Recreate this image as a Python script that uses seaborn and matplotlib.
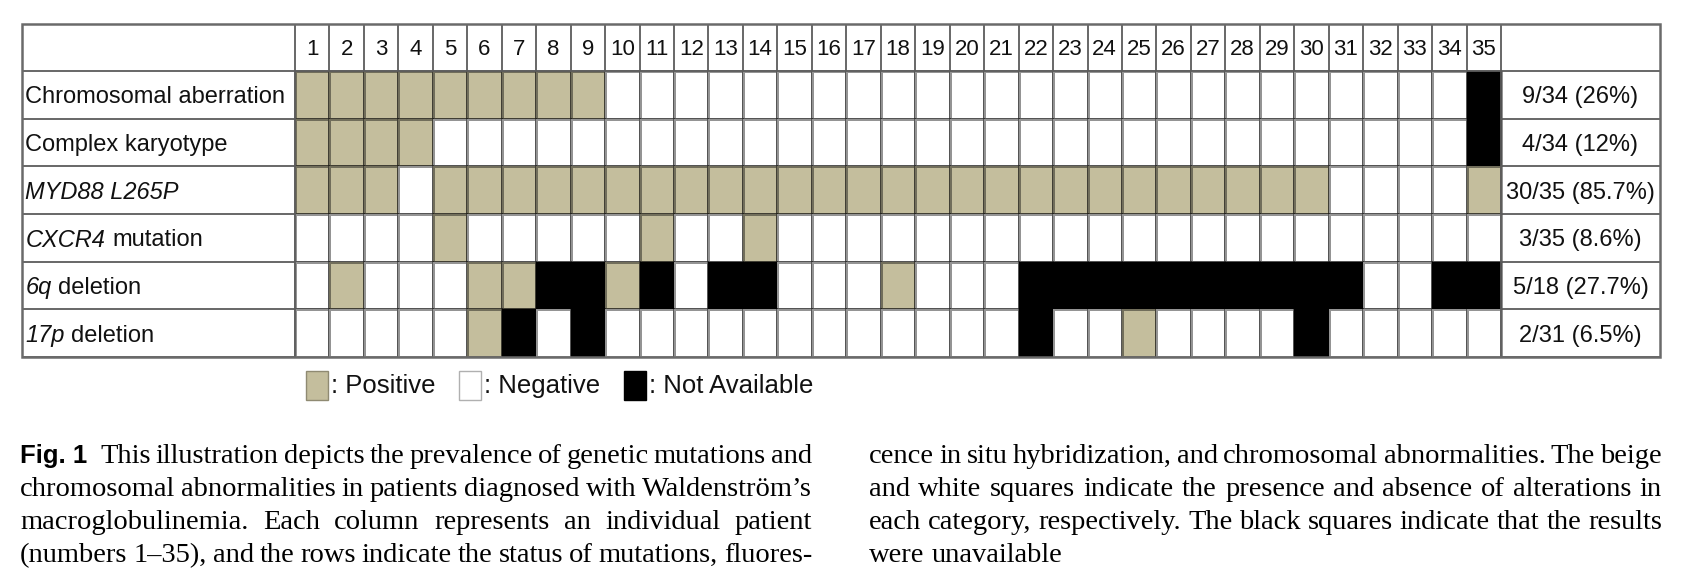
import matplotlib
matplotlib.use("Agg")
import matplotlib.pyplot as plt
import matplotlib.transforms as mtransforms
import seaborn as sns
import pandas as pd
from matplotlib.colors import ListedColormap
from matplotlib.patches import Rectangle

# ---------------- data ----------------
patients = [str(i) for i in range(1, 36)]
categories = ["Chromosomal aberration", "Complex karyotype", "MYD88 L265P",
              "CXCR4 mutation", "6q deletion", "17p deletion"]
# P = positive, N = negative, X = not available (patients 1..35)
chromosomal_aberration = "PPPPPPPPPNNNNNNNNNNNNNNNNNNNNNNNNNX"
complex_karyotype      = "PPPPNNNNNNNNNNNNNNNNNNNNNNNNNNNNNNX"
myd88_l265p            = "PPPNPPPPPPPPPPPPPPPPPPPPPPPPPPNNNNP"
cxcr4_mutation         = "NNNNPNNNNNPNNPNNNNNNNNNNNNNNNNNNNNN"
del_6q                 = "NPNNNPPXXPXNXXNNNPNNNXXXXXXXXXXNNXX"
del_17p                = "NNNNNPXNXNNNNNNNNNNNNXNNPNNNNXNNNNN"
summaries = ["9/34 (26%)", "4/34 (12%)", "30/35 (85.7%)", "3/35 (8.6%)",
             "5/18 (27.7%)", "2/31 (6.5%)"]
legend_labels = [": Positive", ": Negative", ": Not Available"]

# label parts: (italic part, upright part)
label_parts = [("", "Chromosomal aberration"), ("", "Complex karyotype"),
               ("MYD88 L265P", ""), ("CXCR4", "mutation"),
               ("6q", "deletion"), ("17p", "deletion")]

rows = [chromosomal_aberration, complex_karyotype, myd88_l265p,
        cxcr4_mutation, del_6q, del_17p]
code = {"N": 0, "P": 1, "X": 2}
df = pd.DataFrame([[code[c] for c in r] for r in rows],
                  index=categories, columns=patients)

# ---------------- style ----------------
sns.set_style("white")
plt.rcParams["font.family"] = ["Liberation Sans", "DejaVu Sans"]

BEIGE = "#C4BE9D"
LINE = "#5c5c5c"
TXT = "#111111"
W, H = 1686, 586
fig = plt.figure(figsize=(W / 100, H / 100), dpi=100)
fig.patch.set_facecolor("white")
renderer = fig.canvas.get_renderer()

# table geometry (pixels)
tab_left, tab_right, tab_top, tab_bottom = 22, 1660, 24, 357
grid_left, grid_right, grid_top = 295, 1501, 71
ax = fig.add_axes([tab_left / W, 1 - tab_bottom / H,
                   (tab_right - tab_left) / W, (tab_bottom - tab_top) / H])

cmap = ListedColormap(["white", BEIGE, "black"])
sns.heatmap(df, ax=ax, cmap=cmap, vmin=-0.5, vmax=2.5, cbar=False,
            linewidths=1.0, linecolor=(0, 0, 0, 0.42),
            xticklabels=False, yticklabels=False)

ncol, nrow = df.shape[1], df.shape[0]
cw = (grid_right - grid_left) / ncol
rh = (tab_bottom - grid_top) / nrow
XL = -(grid_left - tab_left) / cw
XR = ncol + (tab_right - grid_right) / cw
HR = (grid_top - tab_top) / rh
ax.set_xlim(XL, XR)
ax.set_ylim(nrow, -HR)
ax.set_axis_off()

lw = 1.3
ax.vlines(range(0, ncol + 1), -HR, 0, color=LINE, lw=lw, clip_on=False)
ax.hlines(range(0, nrow + 1), XL, 0, color=LINE, lw=lw, clip_on=False)
ax.hlines(range(0, nrow + 1), ncol, XR, color=LINE, lw=lw, clip_on=False)
ax.hlines(0, 0, ncol, color=LINE, lw=lw, clip_on=False)
ax.vlines([0, ncol], 0, nrow, color=LINE, lw=lw, clip_on=False)
ax.add_patch(Rectangle((XL, -HR), XR - XL, nrow + HR, fill=False,
                       edgecolor="#6a6a6a", lw=1.8, clip_on=False, zorder=5))


def measure(txt, kw):
    t = fig.text(0, 0, txt, **kw)
    w = t.get_window_extent(renderer).width
    t.remove()
    return w


lab_up = dict(fontsize=17, color=TXT)
lab_it = dict(fontsize=17, color=TXT, style="italic")
space17 = measure("a a", lab_up) - 2 * measure("a", lab_up)

# header numbers
for j, p in enumerate(patients):
    ax.text(j + 0.5, -HR / 2 + 0.04, p, ha="center", va="center",
            fontsize=16, color=TXT)
# row labels and summaries
for i, ((it, up), s) in enumerate(zip(label_parts, summaries)):
    x0, y0 = XL + 0.1, i + 0.55
    off = 0.0
    if it:
        ax.text(x0, y0, it, ha="left", va="center", **lab_it)
        off = measure(it, lab_it) + space17
    if up:
        tr = mtransforms.offset_copy(ax.transData, fig=fig, x=off, y=0, units="dots")
        ax.text(x0, y0, up, ha="left", va="center", transform=tr, **lab_up)
    ax.text((ncol + XR) / 2, y0, s, ha="center", va="center", **lab_up)

# ---------------- legend ----------------
def px(x, y):
    return x / W, 1 - y / H

leg_items = [(306, BEIGE, "#8f8a72"), (459, "white", "#b0b0b0"),
             (624, "black", "black")]
for (x, fc, ec), lab in zip(leg_items, legend_labels):
    x0, y0 = px(x, 400)
    fig.add_artist(Rectangle((x0, y0), 22 / W, 29 / H, transform=fig.transFigure,
                             facecolor=fc, edgecolor=ec, lw=1.0))
    tx, ty = px(x + 25, 386)
    fig.text(tx, ty, lab, ha="left", va="center", fontsize=18.5, color=TXT)

# ---------------- caption ----------------
serif = dict(family=["Liberation Serif", "DejaVu Serif"], fontsize=20.5, color="black")
bold = dict(family=["Liberation Sans", "DejaVu Sans"], fontsize=18.5, weight="bold",
            color="black")


def place_line(words, x0, x1, base, justify=True, lead=0.0):
    widths = [measure(w, kw) for w, kw in words]
    if justify and len(words) > 1:
        gap = (x1 - x0 - lead - sum(widths)) / (len(words) - 1)
    else:
        gap = measure("a a", serif) - 2 * measure("a", serif)
    x = x0
    for k, ((w, kw), wd) in enumerate(zip(words, widths)):
        fx, fy = px(x, base)
        fig.text(fx, fy, w, ha="left", va="baseline", **kw)
        x += wd + gap + (lead if k == 0 else 0)


def words_of(s):
    return [(w, serif) for w in s.split(" ")]


left_lines = [
    [("Fig. 1", bold)] + words_of("This illustration depicts the prevalence of genetic mutations and"),
    words_of("chromosomal abnormalities in patients diagnosed with Waldenström’s"),
    words_of("macroglobulinemia. Each column represents an individual patient"),
    words_of("(numbers 1–35), and the rows indicate the status of mutations, fluores-"),
]
right_lines = [
    words_of("cence in situ hybridization, and chromosomal abnormalities. The beige"),
    words_of("and white squares indicate the presence and absence of alterations in"),
    words_of("each category, respectively. The black squares indicate that the results"),
    words_of("were unavailable"),
]
bases = [463, 496, 529, 562]
for k, (ln, b) in enumerate(zip(left_lines, bases)):
    place_line(ln, 20, 812, b, lead=(8.0 if k == 0 else 0.0))
for k, (ln, b) in enumerate(zip(right_lines, bases)):
    place_line(ln, 869, 1662, b, justify=(k < 3))

fig.savefig("out.png", dpi=100, facecolor="white")
